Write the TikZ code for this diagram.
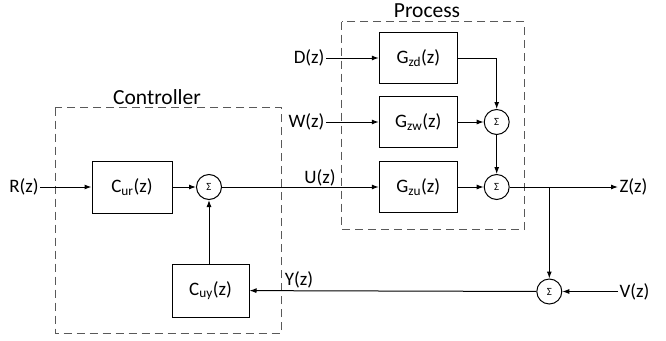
\documentclass[tikz,border=0pt]{standalone}
\usepackage{fontspec}
\setmainfont{Carlito}
\usetikzlibrary{arrows.meta}
\newcommand{\lsub}[1]{\textsubscript{#1}}
\begin{document}
\begin{tikzpicture}[x=1pt,y=-1pt,
  line width=1pt,
  >={Latex[length=7pt,width=5pt]},
  blk/.style={draw, rectangle, inner sep=0pt, minimum width=78pt, minimum height=51.5pt, font=\fontsize{19}{20}\selectfont},
  sumn/.style={draw, circle, inner sep=0pt, minimum size=25pt, font=\fontsize{11}{11}\selectfont},
  lbl/.style={inner sep=1pt, font=\fontsize{19}{20}\selectfont},
  ttl/.style={inner sep=0pt, font=\fontsize{21.5}{22}\selectfont},
  grp/.style={draw=black!65, dash pattern=on 8pt off 5pt, line width=1pt}
]
\useasboundingbox (0,0) rectangle (666,340);
% group frames
\draw[grp] (55,107.7) rectangle (281.7,333);
\draw[grp] (341.7,21.7) rectangle (524.3,229.3);
\node[ttl] (tc) at (157,97) {Controller};
\node[ttl] (tp) at (427,11) {Process};
% controller
\node[lbl] (R) at (24,187) {R(z)};
\node[blk, minimum width=80pt, minimum height=52pt] (cur) at (132,187) {C\lsub{ur}(z)};
\node[sumn] (sc) at (209,187) {Σ};
\node[blk, minimum width=77pt, minimum height=53pt] (cuy) at (210.5,290.5) {C\lsub{uy}(z)};
% process
\node[blk] (gzd) at (418.3,58) {G\lsub{zd}(z)};
\node[blk] (gzw) at (418.3,122) {G\lsub{zw}(z)};
\node[blk] (gzu) at (418.3,187) {G\lsub{zu}(z)};
\node[sumn] (s1) at (496.7,122) {Σ};
\node[sumn] (s2) at (496.7,187) {Σ};
\node[sumn] (s3) at (549.3,291.5) {Σ};
\node[lbl, anchor=east] (D) at (326,58) {D(z)};
\node[lbl, anchor=east] (W) at (326,122) {W(z)};
\node[lbl, anchor=west] (Z) at (618,187) {Z(z)};
\node[lbl, anchor=west] (V) at (618,291.5) {V(z)};
\node[lbl] (U) at (320,178) {U(z)};
\node[lbl] (Y) at (299,280) {Y(z)};
\coordinate (br) at (549.3,187);
% connectors
\draw[->] (R) -- (cur);
\draw[->] (cur) -- (sc);
\draw[->] (cuy.north -| sc.south) -- (sc.south);
\draw[->] (sc) -- (gzu);
\draw[->] (D) -- (gzd);
\draw[->] (W) -- (gzw);
\draw[->] (gzd.east) -| (s1.north);
\draw[->] (gzw) -- (s1);
\draw[->] (s1) -- (s2);
\draw[->] (gzu) -- (s2);
\draw[->] (s2) -- (Z);
\draw[->] (br) -- (s3.north);
\draw[->] (V) -- (s3);
\draw[->] (s3) -- (cuy);
\end{tikzpicture}
\end{document}
